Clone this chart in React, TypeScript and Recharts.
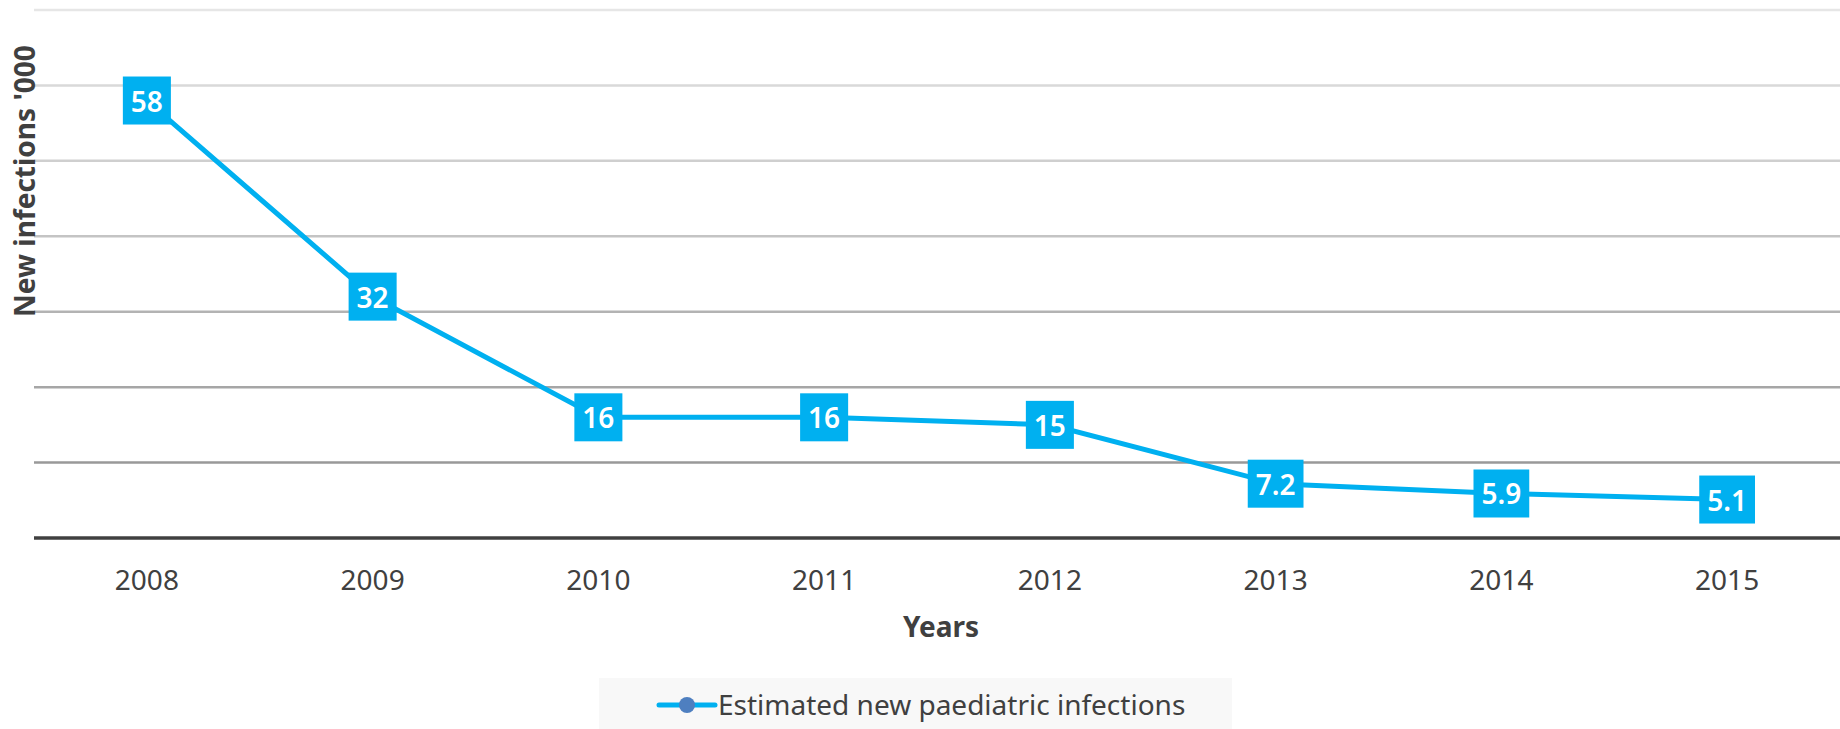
import React from "react";
import { LineChart, Line, XAxis, YAxis, ReferenceLine, LabelList, Legend } from "recharts";

const years = ["2008", "2009", "2010", "2011", "2012", "2013", "2014", "2015"];
const infections = [58, 32, 16, 16, 15, 7.2, 5.9, 5.1];
const yTicks = [0, 10, 20, 30, 40, 50, 60, 70];
const gridValues = [10, 20, 30, 40, 50, 60, 70];
const gridColors = ["#999999", "#a6a6a6", "#b3b3b3", "#c4c4c4", "#cfcfcf", "#d9d9d9", "#e6e6e6"];
const seriesName = "Estimated new paediatric infections";

const data = years.map((year, i) => ({ year, value: infections[i] }));

const FONT = '"Noto Sans", "Open Sans", sans-serif';
const LINE_COLOR = "#00B0F0";
const TEXT_COLOR = "#404040";

let measureCtx: CanvasRenderingContext2D | null = null;
function textWidth(s: string, size: number, weight: string): number {
  try {
    if (!measureCtx) measureCtx = document.createElement("canvas").getContext("2d");
    if (measureCtx) {
      measureCtx.font = `${weight} ${size}px "Noto Sans"`;
      return measureCtx.measureText(s).width;
    }
  } catch (e) {}
  return s.length * size * 0.55;
}

const BoxLabel = (props: any) => {
  const { x, y, value } = props;
  if (x == null || y == null) return null;
  const text = String(value);
  const w = textWidth(text, 28, "600") + 16;
  return (
    <g>
      <rect x={x - w / 2} y={y - 24} width={w} height={48} fill={LINE_COLOR} />
      <text x={x} y={y} dy={11} textAnchor="middle" fill="#ffffff" fontSize={28} fontWeight={600} fontFamily={FONT}>
        {text}
      </text>
    </g>
  );
};

const XTick = (props: any) => {
  const { x, payload } = props;
  return (
    <text x={x} y={590} textAnchor="middle" fill={TEXT_COLOR} fontSize={28} fontFamily={FONT}>
      {payload.value}
    </text>
  );
};

const YLabel = (props: any) => {
  const vb = props.viewBox || { x: 0, y: 10, width: 34, height: 528 };
  const cx = vb.x + 35;
  const cy = vb.y + 171;
  return (
    <text
      x={cx}
      y={cy}
      transform={`rotate(-90 ${cx} ${cy})`}
      textAnchor="middle"
      fill={TEXT_COLOR}
      fontSize={28}
      fontWeight="bold"
      fontFamily={FONT}
    >
      New infections &apos;000
    </text>
  );
};

const XLabel = (props: any) => {
  const vb = props.viewBox || { x: 34, y: 538, width: 1806, height: 30 };
  return (
    <text
      x={vb.x + vb.width / 2 + 4}
      y={637}
      textAnchor="middle"
      fill={TEXT_COLOR}
      fontSize={28}
      fontWeight="bold"
      fontFamily={FONT}
    >
      Years
    </text>
  );
};

const LegendContent = () => (
  <svg width={633} height={51} style={{ display: "block" }}>
    <rect x={0} y={0} width={633} height={51} fill="#f8f8f8" />
    <line x1={60} y1={27} x2={116} y2={27} stroke={LINE_COLOR} strokeWidth={5} strokeLinecap="round" />
    <circle cx={88} cy={27} r={8} fill="#4e7fc0" />
    <text x={119} y={37} fill={TEXT_COLOR} fontSize={28} fontFamily={FONT}>
      {seriesName}
    </text>
  </svg>
);

export default function App() {
  return (
    <div style={{ position: "absolute", left: 0, top: 0, width: 1840, height: 729, background: "#ffffff" }}>
      <LineChart width={1840} height={729} data={data} margin={{ top: 10, right: 0, left: 0, bottom: 110 }}>
        {gridValues.map((v, i) => (
          <ReferenceLine key={v} y={v} stroke={gridColors[i]} strokeWidth={2.5} ifOverflow="extendDomain" />
        ))}
        <XAxis
          dataKey="year"
          height={30}
          padding={{ left: 112.875, right: 112.875 }}
          axisLine={{ stroke: "#404040", strokeWidth: 3.5 }}
          tickLine={false}
          tick={<XTick />}
          interval={0}
          label={<XLabel />}
        />
        <YAxis
          width={34}
          domain={[0, 70]}
          ticks={yTicks}
          axisLine={false}
          tickLine={false}
          tick={false}
          label={<YLabel />}
        />
        <Legend
          verticalAlign="bottom"
          width={633}
          height={51}
          content={<LegendContent />}
          wrapperStyle={{ left: 599, top: 678, bottom: "auto", width: 633, height: 51 }}
        />
        <Line
          dataKey="value"
          name={seriesName}
          stroke={LINE_COLOR}
          strokeWidth={5}
          dot={false}
          activeDot={false}
          isAnimationActive={false}
        >
          <LabelList dataKey="value" content={<BoxLabel />} />
        </Line>
      </LineChart>
    </div>
  );
}
